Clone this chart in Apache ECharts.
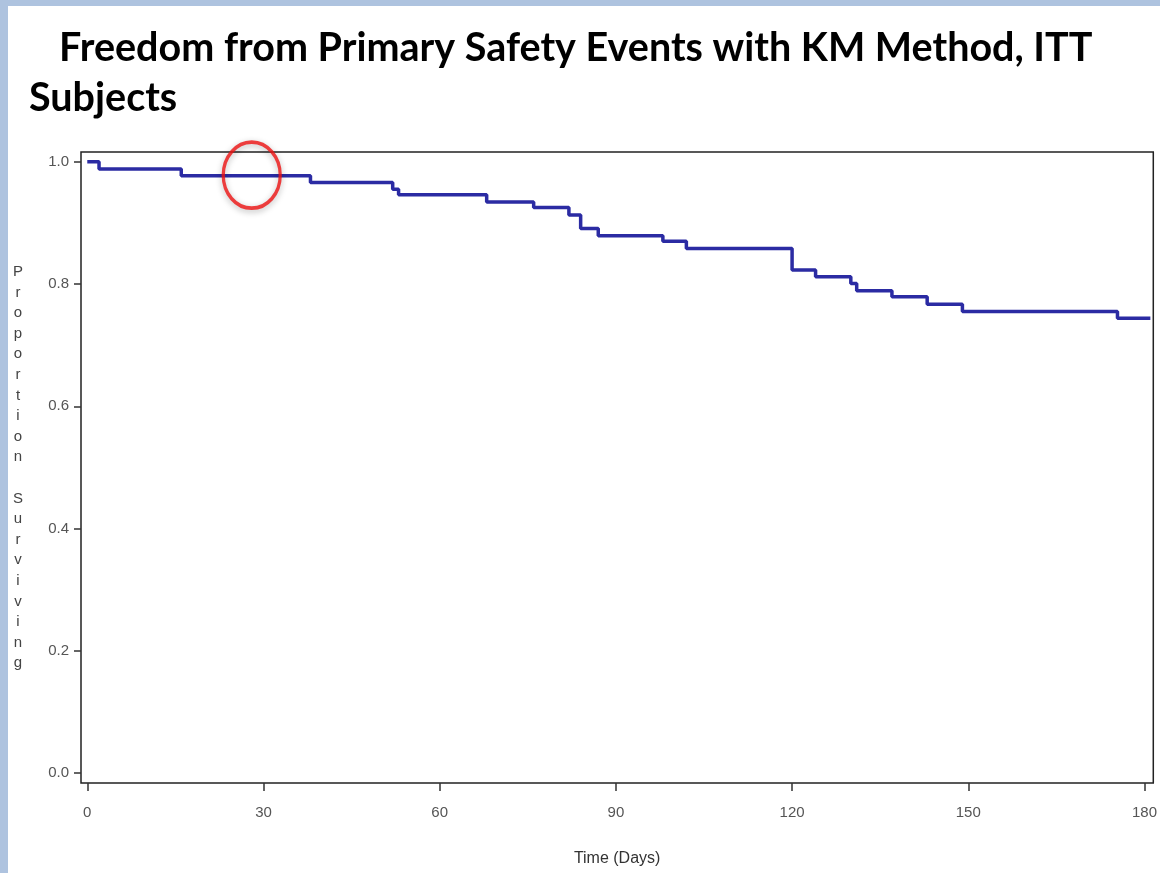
<!DOCTYPE html>
<html>
<head>
<meta charset="utf-8">
<script src="https://cdn.jsdelivr.net/npm/echarts@6/dist/echarts.min.js"></script>
<style>
html,body{margin:0;padding:0;background:#fff;}
#chart{width:1160px;height:873px;}
</style>
</head>
<body>
<div id="chart"></div>
<script>
// Kaplan-Meier step data (time in days, proportion surviving after that time)
const times  = [0, 2, 16, 38, 52, 53, 68, 76, 82, 84, 87, 98, 102, 120, 124, 130, 131, 137, 143, 149, 175.4, 181];
const values = [1.0, 0.988, 0.977, 0.966, 0.955, 0.946, 0.934, 0.925, 0.913, 0.891, 0.879, 0.870, 0.858, 0.823, 0.812, 0.801, 0.789, 0.779, 0.767, 0.755, 0.744, 0.744];
const xTicks = [0, 30, 60, 90, 120, 150, 180];
const yTicks = [0.0, 0.2, 0.4, 0.6, 0.8, 1.0];
const highlight = [[28, 0.978]];
const titleLine1 = 'Freedom from Primary Safety Events with KM Method, ITT';
const titleLine2 = 'Subjects';
const yName = 'Proportion Surviving';
const xName = 'Time (Days)';

const chart = echarts.init(document.getElementById('chart'), null, {renderer: 'canvas'});
const kmData = times.map((t, i) => [t, values[i]]);
const axisFont = {fontFamily: 'Liberation Sans, Arial, sans-serif', fontSize: 15, color: '#555'};

chart.setOption({
  backgroundColor: '#ffffff',
  animation: false,
  graphic: [
    {type: 'rect', left: 0, top: 0, shape: {width: 1160, height: 6}, style: {fill: '#aec3df'}, z: -10},
    {type: 'rect', left: 0, top: 0, shape: {width: 8, height: 873}, style: {fill: '#aec3df'}, z: -10}
  ],
  title: [
    {text: titleLine1, left: 54, top: 23, textStyle: {fontFamily: 'Lato, sans-serif', fontWeight: 'bold', fontSize: 39.5, color: '#000'}},
    {text: titleLine2, left: 24, top: 73, textStyle: {fontFamily: 'Lato, sans-serif', fontWeight: 'bold', fontSize: 39.5, color: '#000'}}
  ],
  grid: {left: 81, right: 4, top: 152, bottom: 90, show: true, borderColor: '#222', borderWidth: 1.5, backgroundColor: '#fff'},
  xAxis: {
    type: 'value', min: -1.07, max: 181.5,
    name: xName, nameLocation: 'middle', nameGap: 68,
    nameTextStyle: {fontFamily: 'Liberation Sans, Arial, sans-serif', fontSize: 16, color: '#333'},
    axisLine: {show: false, onZero: false},
    axisTick: {show: true, inside: false, length: 8, customValues: xTicks, lineStyle: {color: '#333', width: 1.5}},
    axisLabel: Object.assign({customValues: xTicks, margin: 22}, axisFont),
    splitLine: {show: false}
  },
  yAxis: {
    type: 'value', min: -0.0164, max: 1.016,
    name: yName.split('').join('\n'), nameLocation: 'middle', nameGap: 63, nameRotate: 0,
    nameTextStyle: {fontFamily: 'Liberation Sans, Arial, sans-serif', fontSize: 15, color: '#444', lineHeight: 20.6, align: 'center', verticalAlign: 'middle'},
    axisLine: {show: false, onZero: false},
    axisTick: {show: true, inside: false, length: 7, customValues: yTicks, lineStyle: {color: '#333', width: 1.5}},
    axisLabel: Object.assign({customValues: yTicks, margin: 12, formatter: v => v.toFixed(1)}, axisFont),
    splitLine: {show: false}
  },
  series: [
    {
      type: 'line', data: kmData, step: 'end', showSymbol: false, symbol: 'none',
      lineStyle: {color: '#2b2ba3', width: 3.5}, z: 3
    },
    {
      type: 'scatter', data: highlight, symbol: 'circle', symbolSize: [57, 66],
      itemStyle: {color: 'rgba(0,0,0,0)', borderColor: '#ee1111', borderWidth: 3.5, shadowColor: 'rgba(0,0,0,0.35)', shadowBlur: 6, shadowOffsetY: 2},
      z: 5, silent: true
    }
  ]
});
</script>
</body>
</html>
